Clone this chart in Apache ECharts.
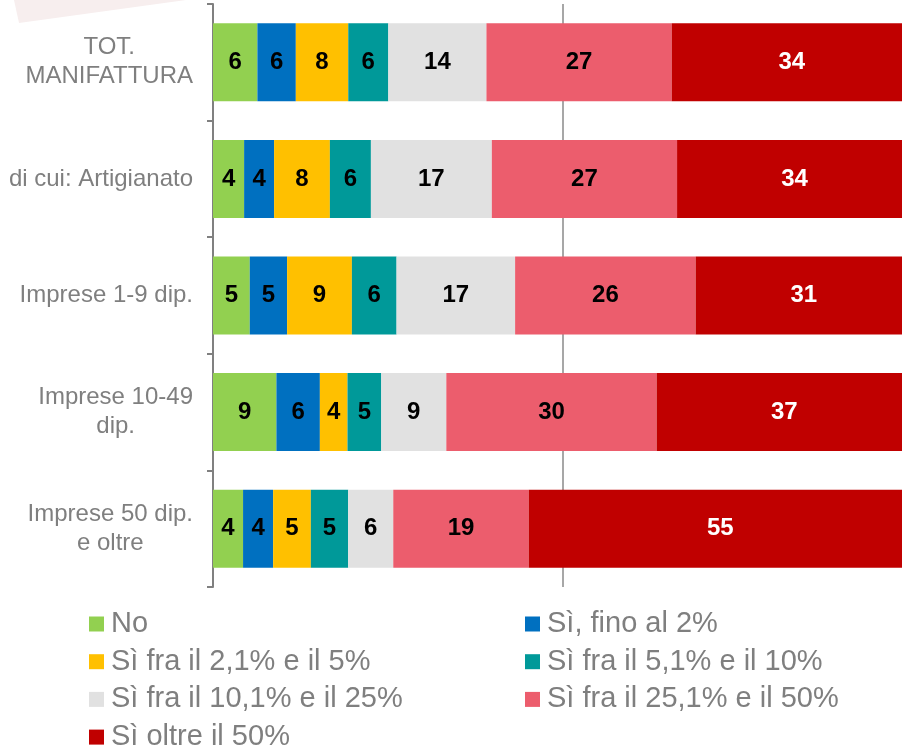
<!DOCTYPE html>
<html>
<head>
<meta charset="utf-8">
<script src="https://cdn.jsdelivr.net/npm/echarts@6/dist/echarts.min.js"></script>
<style>
  html, body { margin: 0; padding: 0; background: #fff; }
  #chart { width: 902px; height: 749px; }
</style>
</head>
<body>
<div id="chart"></div>
<script>
// categorie (dall'alto in basso)
var categories = ['TOT.\nMANIFATTURA', 'di cui: Artigianato', 'Imprese 1-9 dip.', 'Imprese 10-49\ndip.', 'Imprese 50 dip.\ne oltre'];

// quote % per classe di risposta
var no        = [6.35, 4.45, 5.26, 9.07, 4.30];
var fino2     = [5.5, 4.29, 5.34, 6.22, 4.30];
var fra2_5    = [7.5, 7.98, 9.27, 3.95, 5.40];
var fra5_10   = [5.73, 5.87, 6.39, 4.83, 5.34];
var fra10_25  = [14.04, 17.3, 16.96, 9.31, 6.45];
var fra25_50  = [26.5, 26.5, 25.83, 30.09, 19.38];
var oltre50   = [34.38, 33.61, 30.95, 36.53, 54.83];

var seriesNames = ['No', 'Sì, fino al 2%', 'Sì fra il 2,1% e il 5%', 'Sì fra il 5,1% e il 10%',
  'Sì fra il 10,1% e il 25%', 'Sì fra il 25,1% e il 50%', 'Sì oltre il 50%'];
var seriesData = [no, fino2, fra2_5, fra5_10, fra10_25, fra25_50, oltre50];
var colors = ['#92d050', '#0070c0', '#ffc000', '#009999', '#e1e1e1', '#ec5d6d', '#c00000'];
var labelColors = ['#000', '#000', '#000', '#000', '#000', '#000', '#fff'];

var myChart = echarts.init(document.getElementById('chart'));

var series = [];
for (var i = 0; i < seriesNames.length; i++) {
  series.push({
    name: seriesNames[i],
    type: 'bar',
    stack: 'tot',
    barWidth: 78,
    itemStyle: { color: colors[i] },
    label: {
      show: true,
      position: 'inside',
      color: labelColors[i],
      fontFamily: 'Liberation Sans',
      fontWeight: 'bold',
      fontSize: 24,
      formatter: function (p) { return Math.round(p.value); }
    },
    data: seriesData[i]
  });
}

var legendText = { color: '#7f7f7f', fontFamily: 'Liberation Sans', fontSize: 29, lineHeight: 30, padding: [0, 0, 0, 2] };

var option = {
  backgroundColor: '#fff',
  animation: false,
  graphic: [{
    type: 'polygon',
    shape: { points: [[14, 0], [19, 23], [186, 0]] },
    style: { fill: '#f7eeee' },
    silent: true
  }],
  grid: { left: 213, top: 4, width: 699, height: 583, outerBoundsMode: 'none', containLabel: false },
  legend: [{
    orient: 'vertical',
    left: 89, top: 609, height: 200, padding: 0,
    itemWidth: 15, itemHeight: 15, itemGap: 7.7,
    icon: 'rect',
    selectedMode: false,
    textStyle: legendText,
    data: [seriesNames[0], seriesNames[2], seriesNames[4], seriesNames[6]]
  }, {
    orient: 'vertical',
    left: 525, top: 609, height: 200, padding: 0,
    itemWidth: 15, itemHeight: 15, itemGap: 7.7,
    icon: 'rect',
    selectedMode: false,
    textStyle: legendText,
    data: [seriesNames[1], seriesNames[3], seriesNames[5]]
  }],
  xAxis: {
    type: 'value',
    min: 0, max: 100, interval: 50,
    axisLine: { show: false },
    axisTick: { show: false },
    axisLabel: { show: false },
    splitLine: { show: true, lineStyle: { color: '#8a8a8a', width: 1.5 } }
  },
  yAxis: {
    type: 'category',
    inverse: true,
    data: categories,
    axisLine: { show: true, lineStyle: { color: '#808080', width: 2 } },
    axisTick: { show: true, length: 6, lineStyle: { color: '#808080', width: 2 } },
    axisLabel: {
      margin: 20,
      color: '#7f7f7f',
      fontFamily: 'Liberation Sans',
      fontSize: 24,
      lineHeight: 29,
      formatter: function (v) {
        return v.split('\n').map(function (s) { return '{c|' + s + '}'; }).join('\n');
      },
      rich: {
        c: { align: 'center', color: '#7f7f7f', fontFamily: 'Liberation Sans', fontSize: 24, lineHeight: 29 }
      }
    }
  },
  series: series
};

myChart.setOption(option);
</script>
</body>
</html>
